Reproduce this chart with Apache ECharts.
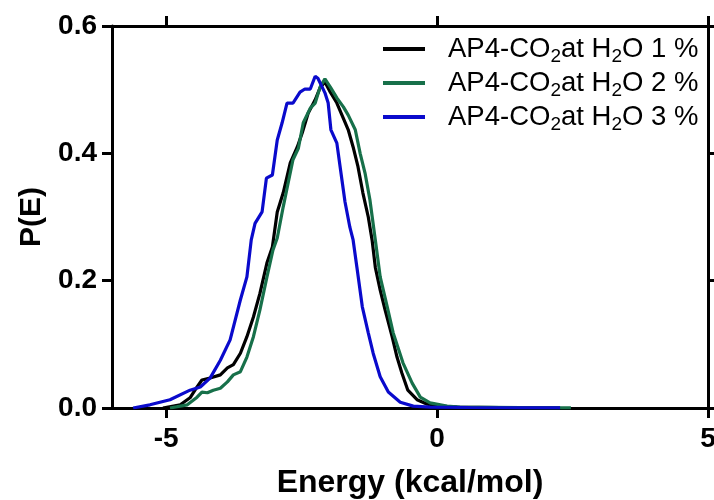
<!DOCTYPE html>
<html>
<head>
<meta charset="utf-8">
<script src="https://cdn.jsdelivr.net/npm/echarts@6/dist/echarts.min.js"></script>
<style>html,body{margin:0;padding:0;background:#fff}#c{width:714px;height:500px}</style>
</head>
<body>
<div id="c"></div>
<script>
var seriesNames = ['AP4-CO2at H2O 1 %', 'AP4-CO2at H2O 2 %', 'AP4-CO2at H2O 3 %'];
var xTicks = [-5, 0, 5];

var blackE = [-5.06,-4.74,-4.56,-4.43,-4.34,-4.19,-4.00,-3.87,-3.76,-3.63,-3.51,-3.39,-3.27,-3.14,-3.04,-2.95,-2.84,-2.71,-2.58,-2.49,-2.38,-2.25,-2.16,-2.07,-1.97,-1.85,-1.73,-1.64,-1.55,-1.46,-1.37,-1.27,-1.20,-1.14,-1.05,-0.96,-0.83,-0.74,-0.65,-0.54,-0.37,-0.18,0.06,0.37,1.16,2.27];
var blackP = [0,0.005,0.016,0.033,0.044,0.047,0.052,0.063,0.068,0.086,0.112,0.143,0.180,0.228,0.253,0.308,0.338,0.385,0.410,0.432,0.463,0.484,0.503,0.512,0.496,0.479,0.455,0.437,0.410,0.379,0.338,0.300,0.264,0.221,0.185,0.154,0.112,0.080,0.055,0.028,0.013,0.006,0.003,0.0015,0.0007,0.0002];

var greenE = [-4.93,-4.61,-4.43,-4.34,-4.24,-4.13,-4.00,-3.87,-3.76,-3.63,-3.51,-3.39,-3.27,-3.14,-3.03,-2.95,-2.84,-2.75,-2.66,-2.56,-2.47,-2.34,-2.25,-2.16,-2.07,-1.97,-1.85,-1.73,-1.64,-1.51,-1.42,-1.33,-1.24,-1.14,-1.05,-0.92,-0.81,-0.63,-0.46,-0.31,-0.13,0.18,0.42,1.53,2.47];
var greenP = [0,0.005,0.017,0.025,0.024,0.028,0.031,0.041,0.052,0.057,0.080,0.112,0.154,0.206,0.248,0.267,0.316,0.353,0.390,0.408,0.448,0.471,0.479,0.504,0.517,0.504,0.487,0.473,0.460,0.437,0.400,0.369,0.327,0.264,0.206,0.159,0.118,0.071,0.039,0.017,0.008,0.003,0.0015,0.0006,0.0002];

var blueE = [-5.61,-5.30,-4.93,-4.56,-4.37,-4.19,-4.00,-3.82,-3.63,-3.51,-3.43,-3.36,-3.23,-3.15,-3.04,-2.95,-2.86,-2.77,-2.66,-2.53,-2.44,-2.34,-2.25,-2.20,-2.07,-2.01,-1.96,-1.85,-1.79,-1.70,-1.61,-1.55,-1.48,-1.38,-1.27,-1.18,-1.05,-0.90,-0.68,-0.44,-0.13,0.61,1.53,2.27];
var blueP = [0,0.005,0.013,0.028,0.033,0.047,0.075,0.107,0.170,0.206,0.264,0.290,0.308,0.361,0.366,0.421,0.448,0.479,0.479,0.496,0.501,0.501,0.521,0.518,0.495,0.479,0.437,0.416,0.379,0.324,0.284,0.264,0.221,0.159,0.118,0.086,0.049,0.025,0.009,0.003,0.0015,0.0008,0.0003,0.0001];

var colors = ['#000000', '#17704a', '#0a0acc'];

function pairs(xs, ys) { return xs.map(function (x, i) { return [x, ys[i]]; }); }

var FONT = '"Liberation Sans", Arial, sans-serif';
var chart = echarts.init(document.getElementById('c'), null, {renderer: 'canvas'});
var axisLineStyle = {color: '#000', width: 3};

chart.setOption({
  animation: false,
  backgroundColor: '#fff',
  grid: {left: 112, right: 6, top: 26, bottom: 92, containLabel: false, outerBoundsMode: 'none'},
  legend: {
    orient: 'vertical',
    left: 383,
    top: 32,
    padding: 0,
    itemGap: 0,
    itemWidth: 42,
    itemHeight: 4,
    icon: 'rect',
    data: seriesNames,
    formatter: function (name) {
      return '{n|' + name.replace(/(CO|H)2/g, '$1}{s|2}{n|') + '}';
    },
    textStyle: {
      padding: [0, 0, 0, 18],
      rich: {
        n: {fontSize: 27.5, fontFamily: FONT, color: '#000', lineHeight: 31},
        s: {fontSize: 19, fontFamily: FONT, color: '#000', lineHeight: 31, padding: [15, 0, 0, 0]}
      }
    }
  },
  xAxis: [{
    type: 'value', min: -6, max: 5, position: 'bottom',
    axisLine: {show: true, onZero: false, lineStyle: axisLineStyle},
    axisTick: {show: true, customValues: xTicks, length: 10, lineStyle: {width: 3, color: '#000'}},
    axisLabel: {customValues: xTicks, fontSize: 28, fontWeight: 'bold', fontFamily: FONT, color: '#000', margin: 17},
    splitLine: {show: false},
    name: 'Energy (kcal/mol)', nameLocation: 'middle', nameGap: 59,
    nameTextStyle: {fontSize: 32, fontWeight: 'bold', fontFamily: FONT, color: '#000'}
  }, {
    type: 'value', min: -6, max: 5, position: 'top',
    axisLine: {show: true, onZero: false, lineStyle: axisLineStyle},
    axisTick: {show: true, customValues: xTicks, length: 10, lineStyle: {width: 3, color: '#000'}},
    axisLabel: {show: false},
    splitLine: {show: false}
  }],
  yAxis: [{
    type: 'value', min: 0, max: 0.6, interval: 0.2, position: 'left',
    axisLine: {show: true, onZero: false, lineStyle: axisLineStyle},
    axisTick: {show: true, length: 10, lineStyle: {width: 3, color: '#000'}},
    axisLabel: {formatter: function (v) { return v.toFixed(1); }, fontSize: 28, fontWeight: 'bold', fontFamily: FONT, color: '#000', margin: 15},
    splitLine: {show: false},
    name: 'P(E)', nameLocation: 'middle', nameGap: 64, nameRotate: 90,
    nameTextStyle: {fontSize: 30, fontWeight: 'bold', fontFamily: FONT, color: '#000'}
  }, {
    type: 'value', min: 0, max: 0.6, interval: 0.2, position: 'right',
    axisLine: {show: true, onZero: false, lineStyle: axisLineStyle},
    axisTick: {show: true, length: 10, lineStyle: {width: 3, color: '#000'}},
    axisLabel: {show: false},
    splitLine: {show: false}
  }],
  series: [
    {name: seriesNames[0], type: 'line', data: pairs(blackE, blackP), showSymbol: false, symbol: 'none', color: colors[0], lineStyle: {width: 3.2, color: colors[0]}, z: 3},
    {name: seriesNames[1], type: 'line', data: pairs(greenE, greenP), showSymbol: false, symbol: 'none', color: colors[1], lineStyle: {width: 3.2, color: colors[1]}, z: 4},
    {name: seriesNames[2], type: 'line', data: pairs(blueE, blueP), showSymbol: false, symbol: 'none', color: colors[2], lineStyle: {width: 3.2, color: colors[2]}, z: 5}
  ]
});
</script>
</body>
</html>
